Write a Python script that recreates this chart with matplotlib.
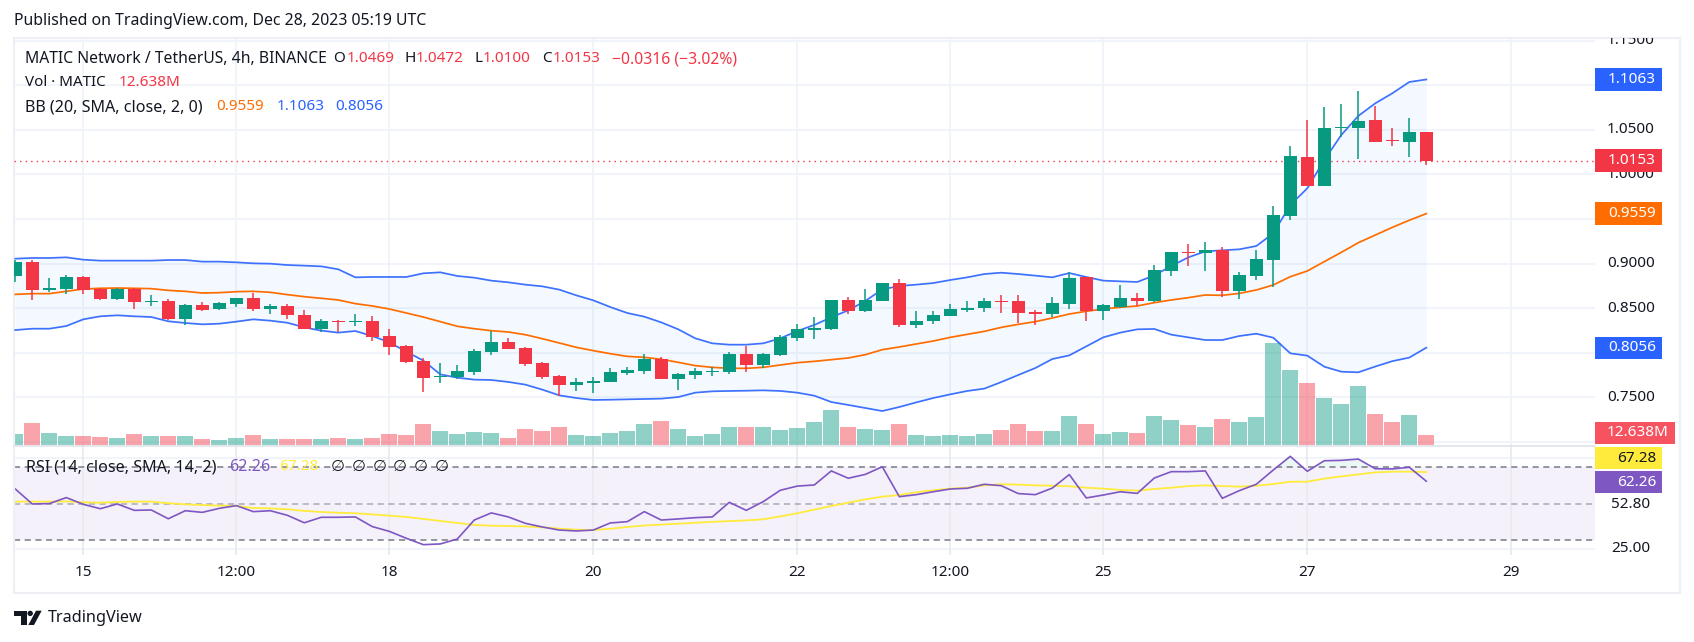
import matplotlib
matplotlib.use("Agg")
import matplotlib.pyplot as plt
from matplotlib.patches import Polygon, Ellipse, FancyBboxPatch, Rectangle
from matplotlib.transforms import Bbox

plt.rcParams['font.family'] = ['Noto Sans', 'DejaVu Sans']

opens = [.8860, .9017, .8707, .8714, .8849, .8718, .8602, .8718, .8572, .8580,
         .8378, .8535, .8490, .8546, .8613, .8490, .8524, .8423, .8266, .8359,
         .8344, .8355, .8187, .8075, .7907, .7728, .7728, .7784, .8008, .8120,
         .8053, .7885, .7739, .7638, .7660, .7672, .7773, .7795, .7929, .7705,
         .7750, .7784, .7784, .7985, .7862, .7974, .8165, .8254, .8266, .8591,
         .8467, .8580, .8781, .8311, .8355, .8411, .8479, .8501, .8580, .8580,
         .8456, .8434, .8546, .8849, .8467, .8512, .8613, .8580, .8916, .9129,
         .9118, .9151, .8692, .8860, .9039, .9533, 1.0194, .9869, 1.0519, 1.0519,
         1.0609, 1.0385, 1.0362, 1.0469]
highs = [.9039, .9039, .8834, .8871, .8860, .8725, .8725, .8725, .8647, .8602,
         .8546, .8568, .8568, .8613, .8669, .8546, .8546, .8479, .8378, .8367,
         .8434, .8411, .8266, .8086, .7941, .7885, .7862, .8041, .8247, .8165,
         .8064, .7896, .7750, .7716, .7728, .7829, .7840, .7985, .7952, .7773,
         .7829, .7840, .8008, .8075, .7997, .8198, .8322, .8400, .8591, .8624,
         .8714, .8781, .8826, .8467, .8467, .8546, .8580, .8613, .8647, .8647,
         .8479, .8624, .8905, .8849, .8546, .8759, .8669, .8983, .9129, .9219,
         .9241, .9185, .8905, .9151, .9645, 1.0317, 1.0609, 1.0754, 1.0788, 1.0934,
         1.0766, 1.0519, 1.0631, 1.0472]
lows = [.8796, .8595, .8684, .8662, .8662, .8591, .8591, .8490, .8524, .8367,
        .8311, .8467, .8479, .8512, .8467, .8434, .8378, .8266, .8232, .8228,
        .8299, .8131, .7974, .7884, .7559, .7660, .7705, .7750, .7974, .8041,
        .7851, .7705, .7515, .7571, .7548, .7672, .7750, .7761, .7705, .7582,
        .7705, .7739, .7761, .7784, .7829, .7963, .8131, .8154, .8254, .8434,
        .8456, .8580, .8288, .8277, .8322, .8411, .8456, .8456, .8445, .8333,
        .8311, .8400, .8490, .8355, .8367, .8501, .8524, .8568, .8860, .8972,
        .8916, .8625, .8602, .8815, .8737, .9488, .9869, .9869, 1.0418, 1.0172,
        1.0362, 1.0317, 1.0194, 1.0100]
closes = [.9017, .8707, .8725, .8849, .8707, .8602, .8718, .8568, .8583, .8378,
          .8535, .8479, .8557, .8613, .8490, .8524, .8423, .8266, .8355, .8344,
          .8355, .8176, .8064, .7896, .7716, .7739, .7795, .8019, .8120, .8041,
          .7873, .7728, .7638, .7672, .7683, .7784, .7806, .7929, .7705, .7761,
          .7795, .7795, .7985, .7862, .7985, .8176, .8266, .8277, .8591, .8467,
          .8591, .8781, .8311, .8355, .8423, .8490, .8501, .8580, .8568, .8445,
          .8434, .8557, .8837, .8467, .8535, .8613, .8580, .8927, .9129, .9118,
          .9151, .8692, .8871, .9050, .9544, 1.0205, .9869, 1.0519, 1.0530, 1.0597,
          1.0362, 1.0373, 1.0474, 1.0153]

# Bollinger bands
bb_upper = [.9054, .9062, .9062, .9069, .9043, .9032, .9032, .9032, .9032, .9039,
            .9039, .9021, .9021, .9013, .9002, .8998, .8983, .8976, .8968, .8935,
            .8845, .8849, .8849, .8849, .8890, .8901, .8860, .8841, .8808, .8789,
            .8763, .8744, .8707, .8643, .8587, .8512, .8445, .8404, .8340, .8262,
            .8161, .8105, .8090, .8090, .8105, .8161, .8243, .8311, .8397, .8475,
            .8580, .8710, .8748, .8763, .8781, .8815, .8845, .8882, .8897, .8882,
            .8864, .8845, .8893, .8849, .8808, .8800, .8793, .8867, .8972, .9069,
            .9136, .9148, .9159, .9196, .9338, .9656, .9843, 1.0160, 1.0441, 1.0654,
            1.0796, 1.0908, 1.1035, 1.1063]
bb_basis = [.8654, .8662, .8662, .8688, .8714, .8722, .8725, .8722, .8718, .8699,
            .8688, .8669, .8673, .8684, .8688, .8677, .8651, .8628, .8610, .8591,
            .8550, .8524, .8490, .8445, .8400, .8348, .8296, .8269, .8247, .8232,
            .8202, .8157, .8109, .8060, .8023, .7989, .7959, .7948, .7926, .7892,
            .7855, .7836, .7825, .7825, .7836, .7862, .7888, .7903, .7922, .7941,
            .7978, .8034, .8064, .8098, .8131, .8172, .8206, .8239, .8284, .8318,
            .8348, .8389, .8434, .8464, .8490, .8509, .8524, .8561, .8591, .8617,
            .8647, .8643, .8665, .8703, .8759, .8852, .8916, .9021, .9125, .9233,
            .9319, .9405, .9485, .9559]
bb_lower = [.8254, .8269, .8269, .8299, .8374, .8408, .8419, .8408, .8400, .8352,
            .8333, .8318, .8325, .8348, .8374, .8359, .8336, .8284, .8247, .8225,
            .8243, .8187, .8116, .8012, .7911, .7757, .7720, .7698, .7694, .7672,
            .7642, .7586, .7522, .7492, .7470, .7473, .7477, .7481, .7485, .7503,
            .7552, .7567, .7571, .7574, .7578, .7571, .7552, .7518, .7447, .7414,
            .7380, .7346, .7391, .7443, .7492, .7533, .7571, .7597, .7671, .7750,
            .7828, .7929, .7970, .8071, .8172, .8225, .8262, .8266, .8202, .8172,
            .8142, .8142, .8187, .8213, .8168, .7993, .7967, .7843, .7787, .7780,
            .7845, .7905, .7945, .8056]

# volume in millions
volumes = [13.9, 27.8, 15.2, 11.4, 11.4, 10.1, 8.8, 13.9, 11.4, 11.4,
           11.4, 7.6, 6.3, 8.8, 12.6, 7.6, 7.6, 7.6, 7.6, 8.8,
           7.6, 8.8, 13.9, 12.6, 26.5, 17.7, 13.9, 16.4, 15.2, 8.8,
           20.2, 17.7, 22.7, 12.6, 11.4, 15.2, 17.7, 26.5, 30.3, 20.2,
           11.4, 13.9, 22.7, 22.7, 22.7, 19.0, 21.5, 29.1, 44.2, 22.7,
           20.2, 19.0, 26.5, 12.6, 11.4, 12.6, 11.4, 13.9, 19.0, 26.5,
           17.7, 17.7, 36.6, 26.5, 13.9, 16.4, 15.2, 36.6, 31.6, 25.3,
           22.7, 32.9, 29.1, 35.4, 128.9, 94.8, 78.4, 59.4, 51.8, 74.6,
           39.2, 29.1, 37.9, 12.638]

rsi = [58.0, 49.8, 50.0, 53.3, 49.6, 47.2, 49.8, 46.3, 46.5, 41.7,
       46.1, 45.2, 47.4, 48.9, 45.6, 46.1, 43.6, 39.5, 42.5, 42.5,
       42.7, 37.4, 34.8, 31.0, 27.5, 27.9, 30.6, 41.0, 44.9, 42.7,
       39.2, 37.2, 35.5, 35.0, 35.5, 39.4, 40.1, 45.6, 41.0, 41.6,
       42.3, 42.7, 50.7, 46.3, 51.1, 57.3, 59.6, 60.2, 67.9, 63.9,
       66.0, 70.2, 53.8, 54.9, 56.5, 58.0, 58.4, 60.6, 59.8, 55.5,
       54.9, 58.5, 65.9, 53.1, 54.7, 56.5, 55.6, 64.0, 67.5, 67.5,
       67.9, 52.9, 57.1, 60.6, 68.4, 75.9, 67.7, 73.5, 73.7, 74.4,
       69.1, 69.0, 69.9, 62.26]
rsi_ma = [51.1, 51.1, 51.1, 51.2, 50.7, 50.5, 50.9, 51.1, 51.1, 50.2,
          49.6, 49.2, 48.9, 48.7, 47.6, 47.4, 46.9, 46.0, 45.4, 45.0,
          44.7, 44.1, 43.4, 42.7, 41.6, 40.5, 39.4, 38.3, 37.9, 37.7,
          37.5, 37.0, 36.3, 35.7, 35.5, 36.2, 37.2, 38.0, 38.5, 39.0,
          39.5, 40.0, 40.4, 40.8, 41.4, 43.0, 44.7, 46.7, 48.7, 50.5,
          52.3, 53.8, 54.7, 56.2, 57.3, 58.2, 58.7, 60.0, 60.6, 60.4,
          60.0, 59.8, 59.5, 58.7, 58.2, 57.5, 57.1, 58.0, 58.7, 59.6,
          60.0, 59.6, 59.3, 59.8, 60.7, 62.0, 62.0, 63.7, 64.9, 66.0,
          67.1, 67.5, 67.5, 67.28]

# time axis: candle index -> label
time_idx = [4, 13, 22, 34, 46, 55, 64, 76, 88]
time_labels = ['15', '12:00', '18', '20', '22', '12:00', '25', '27', '29']

price_grid = [1.15, 1.10, 1.05, 1.00, .95, .90, .85, .80, .75, .70]
price_ticks = [1.15, 1.05, 1.00, .90, .85, .75]
price_labels = ['1.1500', '1.0500', '1.0000', '0.9000', '0.8500', '0.7500']
rsi_grid = [75, 25]

W, H = 1694, 642
GREEN = '#089981'
RED = '#F23645'
BLUE = '#2962FF'
ORANGE = '#FF6D00'
PURPLE = '#7E57C2'
YELLOW = '#FFEB3B'
INK = '#131722'
GRID = '#F0F3FA'
DASH = '#787B86'

fig = plt.figure(figsize=(W / 100, H / 100), dpi=100, facecolor='white')


def axes_px(left, top, right, bottom):
    return fig.add_axes([left / W, 1 - bottom / H, (right - left) / W, (bottom - top) / H])


def txt(x, y, s, color=INK, size=11, ha='left', **kw):
    return fig.text(x / W, 1 - y / H, s, color=color, fontsize=size, ha=ha, va='center', **kw)


xs = list(range(len(closes)))
colors = [GREEN if c >= o else RED for o, c in zip(opens, closes)]
xlim = ((14 - 15.3) / 17, (1595 - 15.3) / 17)

# price pane: 892 px per unit, 1.0 sits at y=174.3
ax = axes_px(14, 38, 1595, 445)
ax.set_xlim(xlim)
ax.set_ylim(1 - (445 - 174.3) / 892, 1 - (38 - 174.3) / 892)

# volume shares the pane, underneath the candles
ax_vol = ax.twinx()
ax_vol.set_ylim(0, 407 * 12.638 / 10)
ax_vol.set_xlim(xlim)
ax.set_zorder(ax_vol.get_zorder() + 1)
ax.patch.set_visible(False)

for p in price_grid:
    ax_vol.axhline((p - ax.get_ylim()[0]) / (ax.get_ylim()[1] - ax.get_ylim()[0]) * ax_vol.get_ylim()[1],
                   color=GRID, lw=1.3, zorder=0)
for i in time_idx:
    ax_vol.axvline(i, color=GRID, lw=1.3, zorder=0)
ax_vol.bar(xs, volumes, width=16 / 17, color=colors, alpha=0.45, linewidth=0, zorder=2)

ax.fill_between(xs, bb_lower, bb_upper, color='#2196F3', alpha=0.05, linewidth=0, zorder=1)
ax.plot(xs, bb_upper, color=BLUE, lw=1.25, zorder=3, alpha=.9)
ax.plot(xs, bb_lower, color=BLUE, lw=1.25, zorder=3, alpha=.9)
ax.plot(xs, bb_basis, color=ORANGE, lw=1.25, zorder=3)
ax.axhline(closes[-1], color=RED, lw=1, ls=(0, (1, 3)), zorder=3)

ax.vlines(xs, lows, highs, colors=colors, lw=1.1, zorder=4)
ax.bar(xs, [c - o for o, c in zip(opens, closes)], bottom=opens, width=13 / 17,
       color=colors, linewidth=0, zorder=5)

for a in (ax, ax_vol):
    a.set_xticks([])
    a.set_yticks([])
    for s in a.spines.values():
        s.set_visible(False)

# RSI pane: 1.825 px per point, 50 sits at y=503.6
ax_rsi = axes_px(14, 445, 1595, 555)
ax_rsi.set_xlim(xlim)
ax_rsi.set_ylim(50 + (503.6 - 555) / 1.825, 50 + (503.6 - 445) / 1.825)
ax_rsi.axhspan(30, 70, color=PURPLE, alpha=0.08, linewidth=0, zorder=1)
for v in rsi_grid:
    ax_rsi.axhline(v, color=GRID, lw=1.3, zorder=0)
for i in time_idx:
    ax_rsi.axvline(i, color='#E9EAF1', lw=1.3, zorder=2)
ax_rsi.axhline(70, color=DASH, lw=1.1, ls=(0, (4, 3)), zorder=3)
ax_rsi.axhline(50, color=DASH, lw=1.1, ls=(0, (4, 3)), alpha=.6, zorder=3)
ax_rsi.axhline(30, color=DASH, lw=1.1, ls=(0, (4, 3)), zorder=3)
ax_rsi.fill_between(xs, 70, rsi, where=[v > 70 for v in rsi], interpolate=True,
                    color=GREEN, alpha=0.08, linewidth=0, zorder=2)
ax_rsi.plot(xs, rsi_ma, color=YELLOW, lw=1.3, zorder=4)
ax_rsi.plot(xs, rsi, color=PURPLE, lw=1.2, zorder=5)
ax_rsi.set_xticks([])
ax_rsi.set_yticks([])
ax_rsi.patch.set_visible(False)
for s in ax_rsi.spines.values():
    s.set_visible(False)

# pane separator and outer frame
fig.add_artist(plt.Line2D([14 / W, 1595 / W], [1 - 445.5 / H] * 2, color='#E0E3EB', lw=1.2))
fig.add_artist(Rectangle((14 / W, 1 - 593 / H), (1680 - 14) / W, (593 - 37.5) / H, transform=fig.transFigure,
                         fill=False, edgecolor='#EEF0F6', lw=1.6))

# header and legend rows
txt(14, 21, 'Published on TradingView.com, Dec 28, 2023 05:19 UTC', size=11.4)
row1 = [(25, 'MATIC Network / TetherUS, 4h, BINANCE', INK, 11.3), (333, 'O', INK, 11), (346.5, '1.0469', RED, 11),
        (404, 'H', INK, 11), (415.5, '1.0472', RED, 11), (474, 'L', INK, 11), (483, '1.0100', RED, 11),
        (542, 'C', INK, 11), (553, '1.0153', RED, 11), (612, '\u22120.0316 (\u22123.02%)', RED, 11.3)]
for x, s, c, fs in row1:
    txt(x, 59, s, color=c, size=fs)
txt(25, 83, 'Vol \u00b7 MATIC', size=10.9)
txt(118.5, 83, '12.638M', color=RED, size=11)
txt(25, 107, 'BB (20, SMA, close, 2, 0)', size=11.6)
txt(216.7, 107, '0.9559', color=ORANGE)
txt(277, 107, '1.1063', color=BLUE)
txt(335, 107, '0.8056', color=BLUE)
txt(26, 467, 'RSI (14, close, SMA, 14, 2)', size=11.6)
txt(229, 467, '62.26', color=PURPLE, size=11.6)
txt(279, 467, '67.28', color=YELLOW, size=11, fontweight='bold')
for x in [331, 352, 373, 393, 414, 435]:
    txt(x, 467, '\u2205', size=11.5)

# right scale
for p, s in zip(price_ticks, price_labels):
    t = txt(1631, 174.3 + (1 - p) * 892, s, ha='center')
    if p == 1.15:
        # the top label is cut by the frame in the original
        t.set_clip_box(Bbox([[1595, 0], [1680, H - 38]]))
        t.set_clip_on(True)
txt(1631, 504, '52.80', ha='center')
txt(1631, 549, '25.00', ha='center')


def tag(y, s, bg, fg='white', right=1662):
    fig.add_artist(FancyBboxPatch((1595 / W, 1 - (y + 11.3) / H), (right - 1595) / W, 22.6 / H,
                                  boxstyle='square,pad=0', transform=fig.transFigure,
                                  facecolor=bg, edgecolor='none', zorder=5))
    txt(right - 6, y, s, color=fg, ha='right', zorder=6)


tag(79.3, '1.1063', BLUE)
tag(160.5, '1.0153', RED)
tag(213.6, '0.9559', ORANGE)
tag(348, '0.8056', BLUE)
tag(433, '12.638M', '#F7525F', right=1675)
tag(458, '67.28', YELLOW, fg=INK)
tag(482, '62.26', PURPLE)

# time axis
for i, s in zip(time_idx, time_labels):
    txt(15.3 + 17 * i, 573, s, ha='center')


# logo
def px_pts(pts):
    return [(x / W, 1 - y / H) for x, y in pts]


fig.add_artist(Polygon(px_pts([(14, 610.7), (26.7, 610.7), (26.7, 625), (20.7, 625), (20.7, 616), (14, 616)]),
                       transform=fig.transFigure, facecolor=INK, edgecolor='none'))
fig.add_artist(Polygon(px_pts([(36, 610.7), (41.7, 610.7), (34, 625), (28.3, 625)]),
                       transform=fig.transFigure, facecolor=INK, edgecolor='none'))
fig.add_artist(Ellipse((30.2 / W, 1 - 613.4 / H), 5.4 / W, 5.4 / H,
                       transform=fig.transFigure, facecolor=INK, edgecolor='none'))
txt(47.7, 618.5, 'TradingView', size=11.7)

fig.savefig('out.png', dpi=100)
